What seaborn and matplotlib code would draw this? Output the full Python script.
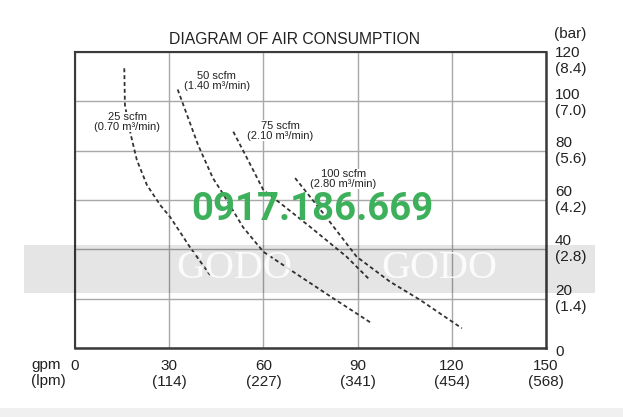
import matplotlib
matplotlib.use("Agg")
import matplotlib.pyplot as plt
import matplotlib.transforms as mtransforms
import seaborn as sns
import pandas as pd
from matplotlib import font_manager
from matplotlib.patches import Rectangle

# ---------------- data ----------------
flow_ticks = [0, 30, 60, 90, 120, 150]
flow_tick_labels = ["0", "30\n(114)", "60\n(227)", "90\n(341)", "120\n(454)", "150\n(568)"]
pressure_ticks = [0, 20, 40, 60, 80, 100, 120]
pressure_tick_labels = ["0", "20\n(1.4)", "40\n(2.8)", "60\n(4.2)", "80\n(5.6)",
                        "100\n(7.0)", "120\n(8.4)"]

curve_labels = ["25 scfm\n(0.70 m³/min)", "50 scfm\n(1.40 m³/min)",
                "75 scfm\n(2.10 m³/min)", "100 scfm\n(2.80 m³/min)"]
label_gpm = [16.6, 45.2, 65.3, 85.4]
label_psi = [91.6, 108.2, 88.0, 68.5]

gpm_25 = [15.7, 15.9, 16.8, 17.8, 19.7, 22.9, 27.1, 30.3, 36.6, 43.0]
psi_25 = [113.4, 98.5, 92.4, 86.3, 76.2, 66.1, 58.0, 53.1, 40.9, 29.6]
gpm_50 = [32.7, 39.2, 43.9, 46.7, 53.5, 60.0, 69.5, 82.3, 94.5]
psi_50 = [104.8, 82.3, 68.9, 63.4, 49.0, 39.0, 30.9, 20.1, 10.0]
gpm_75 = [50.4, 55.1, 60.0, 65.3, 74.8, 86.5, 93.9]
psi_75 = [87.7, 76.2, 64.0, 58.8, 49.2, 37.0, 27.6]
gpm_100 = [70.1, 79.0, 89.7, 100.3, 109.9, 123.2]
psi_100 = [68.9, 54.7, 37.0, 26.9, 19.5, 8.0]

title = "DIAGRAM OF AIR CONSUMPTION"
phone_text = "0917.186.669"
watermark_words = ["GODO", "GODO"]

# ---------------- style ----------------
sns.set_style("white")
plt.rcParams["font.family"] = ["Liberation Sans", "DejaVu Sans"]

names = {f.name for f in font_manager.fontManager.ttflist}
phone_family = "Liberation Sans Narrow" if "Liberation Sans Narrow" in names else "Roboto"
phone_size = 31 if phone_family == "Liberation Sans Narrow" else 27.5

W, H = 623, 417
fig = plt.figure(figsize=(W / 100, H / 100), dpi=100)
ax = fig.add_axes([75 / W, 1 - 348 / H, (546 - 75) / W, (348 - 52) / H])

line_color = "#333333"
curves = [(gpm_25, psi_25), (gpm_50, psi_50), (gpm_75, psi_75), (gpm_100, psi_100)]
for gx, py in curves:
    df = pd.DataFrame({"gpm": gx, "pressure": py})
    sns.lineplot(data=df, x="gpm", y="pressure", sort=False, ax=ax, color=line_color,
                 linewidth=1.3, linestyle=(0, (2.2, 1.6)), zorder=3)

for lab, lx, ly in zip(curve_labels, label_gpm, label_psi):
    ax.text(lx, ly, lab, ha="center", va="center", fontsize=8, color="#222222",
            linespacing=1.0, zorder=4,
            bbox=dict(facecolor="white", edgecolor="none", pad=0.3))

ax.set_xlim(0, 150)
ax.set_ylim(0, 120)
ax.set_xlabel("")
ax.set_ylabel("")
ax.yaxis.tick_right()
ax.tick_params(axis="x", length=0, pad=8, colors="#222222")
ax.tick_params(axis="y", length=0, pad=6.5, colors="#222222")
ax.set_xticks(flow_ticks)
ax.set_xticklabels(flow_tick_labels, fontsize=11, linespacing=1.2, va="top")
ax.set_yticks(pressure_ticks)
ax.set_yticklabels(pressure_tick_labels, fontsize=11, linespacing=1.2)
shifts = {0: -4, 100: -2, 120: -9}
for val, t in zip(pressure_ticks, ax.get_yticklabels()):
    t.set_va("center")
    dy = shifts.get(val, 0)
    if dy:
        off = mtransforms.ScaledTranslation(0, dy / 100, fig.dpi_scale_trans)
        t.set_transform(t.get_transform() + off)
ax.grid(True, color="#a8a8a8", linewidth=1.0)
ax.set_axisbelow(True)
for side, sp in ax.spines.items():
    sp.set_visible(True)
    sp.set_color("#3a3a3a")
    sp.set_linewidth(1.8 if side in ("bottom", "right") else 1.5)

fig.text(294.5 / W, 1 - 39 / H, title, ha="center", va="center", fontsize=11.3, color="#222222")
fig.text(554 / W, 1 - 34 / H, "(bar)", ha="left", va="center", fontsize=11, color="#222222")
fig.text(31 / W, 1 - 358 / H, "gpm\n(lpm)", ha="left", va="top", fontsize=11,
         linespacing=1.2, color="#222222")

# watermark band and texts
fig.add_artist(Rectangle((24 / W, 1 - 293 / H), (595 - 24) / W, 48 / H,
                         transform=fig.transFigure, facecolor="black", alpha=0.1,
                         edgecolor="none", zorder=10))
for wx, word in zip([234, 439], watermark_words):
    fig.text(wx / W, 1 - 269 / H, word, ha="center", va="center", fontsize=29,
             family="Liberation Serif", color="white", alpha=0.85, zorder=11)
fig.text(312 / W, 1 - 209 / H, phone_text, ha="center", va="center",
         fontsize=phone_size, fontweight="bold", family=phone_family,
         color="#3cb05a", zorder=12)
fig.add_artist(Rectangle((0, 0), 1, 9 / H, transform=fig.transFigure,
                         facecolor="#f0f0f0", edgecolor="none", zorder=0))

fig.savefig("out.png", dpi=100)
